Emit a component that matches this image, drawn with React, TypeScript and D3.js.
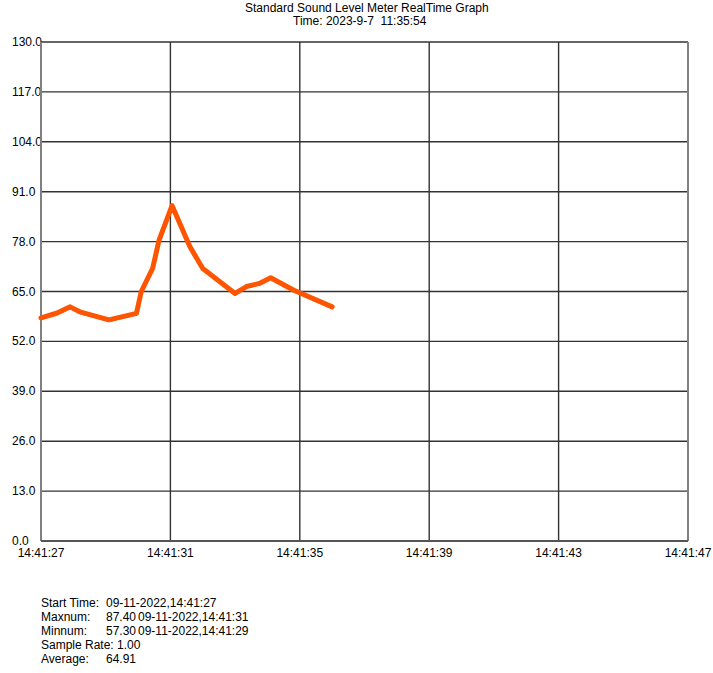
import React from "react";
import * as d3 from "d3";

const titleLines = ["Standard Sound Level Meter RealTime Graph", "Time: 2023-9-7  11:35:54"];
const yTicks = [0, 13, 26, 39, 52, 65, 78, 91, 104, 117, 130];
const xTickSeconds = [0, 4, 8, 12, 16, 20];
const xTickLabels = ["14:41:27", "14:41:31", "14:41:35", "14:41:39", "14:41:43", "14:41:47"];
const sampleTimes = [0, 0.5, 0.9, 1.2, 2.1, 2.95, 3.1, 3.45, 3.65, 4.05, 4.6, 5.0, 6.0, 6.35, 6.75, 7.1, 7.8, 9.0];
const sampleValues = [58.1, 59.4, 61.0, 59.7, 57.6, 59.3, 65.0, 71.0, 78.4, 87.4, 76.7, 71.0, 64.5, 66.3, 67.1, 68.6, 65.4, 61.0];
const infoLabels = ["Start Time:", "Maxnum:", "Minnum:", "Sample Rate: 1.00", "Average:"];
const infoValues = ["09-11-2022,14:41:27", "87.40", "57.30", "", "64.91"];
const infoExtra = ["", "09-11-2022,14:41:31", "09-11-2022,14:41:29", "", ""];

export default function App() {
  const x = d3.scaleLinear().domain([0, 20]).range([41, 688]);
  const y = d3.scaleLinear().domain([0, 130]).range([541, 42]);
  const pts: [number, number][] = sampleTimes.map((t, i) => [t, sampleValues[i]]);
  const line = d3
    .line<[number, number]>()
    .x((d) => x(d[0]))
    .y((d) => y(d[1]));
  const path = line(pts) || "";
  const font = "'Liberation Sans', Arial, sans-serif";
  return (
    <svg
      width={713}
      height={673}
      style={{ position: "absolute", left: 0, top: 0, background: "#fff" }}
      fontFamily={font}
      fontSize={12}
    >
      <rect x={0} y={0} width={713} height={673} fill="#fff" />
      <text x={245} y={12} fill="#000" style={{ whiteSpace: "pre" }}>{titleLines[0]}</text>
      <text x={293} y={25} fill="#000" style={{ whiteSpace: "pre" }}>{titleLines[1]}</text>
      {yTicks.map((v) => (
        <g key={"y" + v}>
          <line x1={x(0)} x2={x(20)} y1={y(v)} y2={y(v)} stroke="#333" strokeWidth={1.4} />
          <text x={12} y={y(v) + 4} fill="#000">{v.toFixed(1)}</text>
        </g>
      ))}
      {xTickSeconds.map((s, i) => (
        <g key={"x" + s}>
          <line x1={x(s)} x2={x(s)} y1={y(0)} y2={y(130)} stroke="#333" strokeWidth={1.4} />
          <text x={x(s)} y={557} textAnchor="middle" fill="#000">{xTickLabels[i]}</text>
        </g>
      ))}
      <line x1={x(0)} x2={x(0)} y1={y(130)} y2={y(0)} stroke="#808080" strokeWidth={2} />
      <line x1={x(20)} x2={x(20)} y1={y(130)} y2={y(0)} stroke="#808080" strokeWidth={2} />
      <line x1={x(0)} x2={x(20)} y1={y(0)} y2={y(0)} stroke="#555" strokeWidth={2} />
      <path d={path} fill="none" stroke="#3a3aff" strokeWidth={1.2} transform="translate(0,1.5)" />
      <path d={path} fill="none" stroke="#ff5500" strokeWidth={5} strokeLinejoin="round" strokeLinecap="round" />
      {infoLabels.map((l, i) => (
        <g key={"i" + i}>
          <text x={41} y={607 + i * 14} fill="#000">{l}</text>
          {infoValues[i] && <text x={106} y={607 + i * 14} fill="#000">{infoValues[i]}</text>}
          {infoExtra[i] && <text x={138} y={607 + i * 14} fill="#000">{infoExtra[i]}</text>}
        </g>
      ))}
    </svg>
  );
}
